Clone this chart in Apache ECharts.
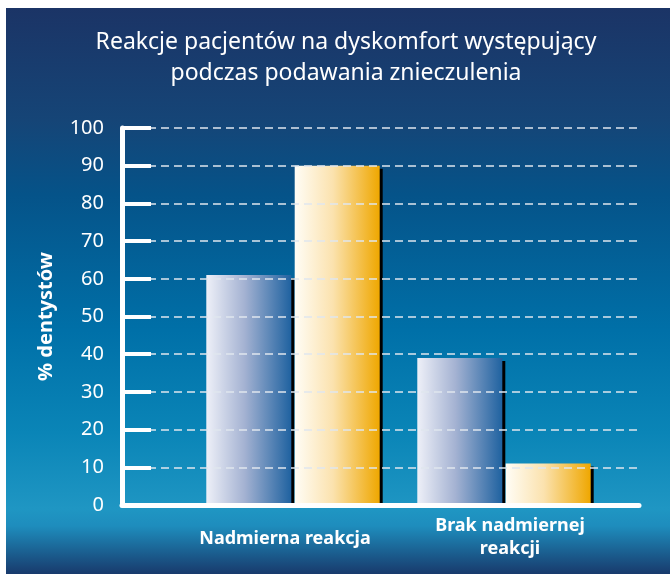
<!DOCTYPE html>
<html>
<head>
<meta charset="utf-8">
<script src="https://cdn.jsdelivr.net/npm/echarts@6/dist/echarts.min.js"></script>
<style>
  html, body { margin: 0; padding: 0; background: #fff; }
  #chart { width: 670px; height: 574px; }
</style>
</head>
<body>
<div id="chart"></div>
<script>
// dane z wykresu
const categories = ["Nadmierna reakcja", "Brak nadmiernej\nreakcji"];
const seriesBlue = [61, 39];
const seriesGold = [90, 11];
const yTicks = { min: 0, max: 100, interval: 10 };

const chart = echarts.init(document.getElementById("chart"));

const blueGrad = new echarts.graphic.LinearGradient(0, 0, 1, 0, [
  { offset: 0, color: "#eef0f8" },
  { offset: 0.45, color: "#a4b2d2" },
  { offset: 1, color: "#1f62a0" },
]);
const goldGrad = new echarts.graphic.LinearGradient(0, 0, 1, 0, [
  { offset: 0, color: "#fffdf6" },
  { offset: 0.45, color: "#fbe2ae" },
  { offset: 1, color: "#efa700" },
]);

const option = {
  backgroundColor: "#ffffff",
  graphic: [
    {
      type: "rect",
      z: -10,
      shape: { x: 6, y: 8, width: 664, height: 566 },
      style: {
        fill: new echarts.graphic.LinearGradient(0, 0, 0, 1, [
          { offset: 0, color: "#1b3466" },
          { offset: 0.2, color: "#154577" },
          { offset: 0.33, color: "#055389" },
          { offset: 0.57, color: "#0070a8" },
          { offset: 0.75, color: "#0a85b7" },
          { offset: 0.885, color: "#1f96c3" },
          { offset: 0.915, color: "#1e8dbd" },
          { offset: 1, color: "#183a6c" },
        ]),
      },
    },
  ],
  title: {
    text: "Reakcje pacjentów na dyskomfort występujący\npodczas podawania znieczulenia",
    left: 341,
    top: 22,
    textAlign: "center",
    textStyle: {
      color: "#ffffff",
      fontFamily: "Noto Sans",
      fontWeight: "normal",
      fontSize: 23,
      lineHeight: 31,
    },
  },
  grid: [
    { left: 122, right: 31, top: 128, bottom: 69 },
    { left: 187.5, right: 60.5, top: 128, bottom: 69 },
  ],
  xAxis: [
    {
      gridIndex: 0,
      type: "category",
      data: ["", ""],
      z: 10,
      axisLine: { show: true, lineStyle: { color: "#ffffff", width: 5 } },
      axisTick: { show: false },
      axisLabel: { show: false },
    },
    {
      gridIndex: 1,
      type: "category",
      data: categories,
      axisLine: { show: false },
      axisTick: { show: false },
      axisLabel: {
        margin: 9,
        interval: 0,
        formatter: function (v, i) {
          return i === 0 ? "{a|" + v + "}" : "{b|" + v.replace("\n", "}\n{b|") + "}";
        },
        rich: {
          a: {
            color: "#ffffff", fontFamily: "Noto Sans", fontWeight: "bold", fontSize: 18,
            padding: [16, 16, 0, 0],
          },
          b: {
            color: "#ffffff", fontFamily: "Noto Sans", fontWeight: "bold", fontSize: 18,
            lineHeight: 23, padding: [0, 0, 0, 12],
          },
        },
      },
    },
  ],
  yAxis: [
    {
      gridIndex: 0,
      type: "value",
      min: yTicks.min,
      max: yTicks.max,
      interval: yTicks.interval,
      name: "% dentystów",
      nameLocation: "middle",
      nameGap: 66,
      nameTextStyle: {
        color: "#ffffff", fontFamily: "Noto Sans", fontWeight: "bold", fontSize: 20,
      },
      z: 10,
      axisLine: { show: true, lineStyle: { color: "#ffffff", width: 5 } },
      axisTick: {
        show: true,
        inside: true,
        length: 29,
        lineStyle: { color: "#ffffff", width: 4 },
      },
      axisLabel: {
        color: "#ffffff",
        fontFamily: "Noto Sans",
        fontSize: 20,
        margin: 18,
      },
      splitLine: {
        show: true,
        lineStyle: { color: "#dfe6ee", width: 1.5, type: [8, 5] },
      },
    },
    {
      gridIndex: 1,
      type: "value",
      min: yTicks.min,
      max: yTicks.max,
      interval: yTicks.interval,
      show: false,
    },
  ],
  series: [
    {
      type: "bar",
      xAxisIndex: 1,
      yAxisIndex: 1,
      data: seriesBlue,
      barWidth: 85,
      barGap: "4%",
      itemStyle: {
        color: blueGrad,
        shadowColor: "#000000",
        shadowBlur: 0,
        shadowOffsetX: 3,
        shadowOffsetY: 3,
      },
    },
    {
      type: "bar",
      xAxisIndex: 1,
      yAxisIndex: 1,
      data: seriesGold,
      barWidth: 85,
      itemStyle: {
        color: goldGrad,
        shadowColor: "#000000",
        shadowBlur: 0,
        shadowOffsetX: 3,
        shadowOffsetY: 3,
      },
    },
  ],
};

chart.setOption(option);
</script>
</body>
</html>
